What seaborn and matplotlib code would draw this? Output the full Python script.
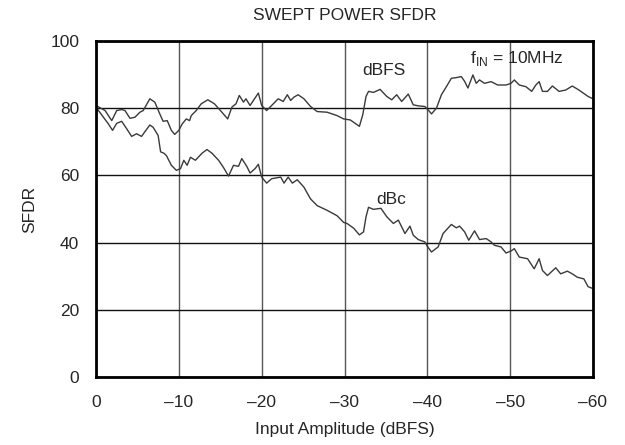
# -*- coding: utf-8 -*-

import pandas            as pd
import seaborn           as sns
import matplotlib.pyplot as plt

# swept power SFDR
dbfs_x = [0, -1.1, -1.9, -2.5, -3.1, -3.5, -4.1, -4.7, -5.3, -5.7,
          -6.5, -7.1, -7.7, -8.1, -8.6, -9.1, -9.5, -10.0, -10.4, -10.9,
          -11.3, -11.5, -12.1, -12.7, -13.5, -14.3, -15.2, -15.9, -16.4, -16.9,
          -17.3, -17.8, -18.1, -18.6, -19.0, -19.6, -20.0, -20.6, -21.2, -22.0,
          -22.6, -23.1, -23.5, -23.9, -24.4, -25.1, -25.9, -26.7, -27.9, -29.1,
          -29.9, -30.7, -31.8, -32.2, -32.6, -32.9, -33.5, -34.3, -35.1, -35.7,
          -36.3, -36.9, -37.7, -38.3, -38.9, -39.7, -40.1, -40.5, -41.1, -41.7,
          -42.3, -42.9, -43.5, -44.1, -44.5, -44.9, -45.5, -45.9, -46.3, -46.9,
          -47.7, -48.5, -49.5, -50.1, -50.5, -51.1, -51.9, -52.6, -53.1, -53.5,
          -53.9, -54.5, -55.1, -55.9, -56.7, -57.5, -58.3, -59.4, -60.0]
dbfs_y = [80.8, 79.3, 76.3, 79.3, 79.6, 79.3, 77.0, 77.3, 78.8, 79.3,
          82.8, 81.8, 78.3, 76.1, 76.3, 73.4, 72.2, 73.4, 75.3, 76.8,
          76.3, 77.8, 79.3, 81.3, 82.5, 81.3, 78.8, 76.8, 80.3, 81.3,
          83.8, 81.8, 82.8, 80.8, 82.3, 84.5, 80.8, 79.3, 80.8, 82.8,
          82.0, 84.0, 82.3, 83.3, 84.0, 82.8, 80.5, 79.0, 78.8, 77.8,
          76.8, 76.5, 74.6, 78.0, 83.5, 85.0, 84.7, 85.6, 83.5, 82.5,
          84.0, 82.0, 84.2, 81.0, 80.7, 80.5, 79.5, 78.3, 80.0, 84.0,
          86.4, 88.9, 89.1, 89.4, 88.0, 86.0, 89.9, 87.4, 88.4, 87.4,
          87.9, 86.9, 86.9, 87.4, 88.4, 86.9, 86.4, 85.0, 86.9, 87.9,
          85.0, 85.0, 86.6, 85.0, 85.4, 86.6, 85.4, 83.5, 82.8]

dbc_x = [0, -0.9, -1.5, -2.0, -2.5, -3.1, -3.7, -4.3, -4.9, -5.5,
         -5.9, -6.5, -6.9, -7.5, -7.8, -8.2, -8.5, -9.1, -9.7, -10.2,
         -10.6, -11.0, -11.4, -12.0, -12.8, -13.4, -14.0, -14.8, -15.4, -16.0,
         -16.6, -17.2, -17.6, -18.2, -18.6, -19.2, -19.6, -20.0, -20.6, -21.2,
         -22.3, -22.7, -23.2, -23.7, -24.3, -25.1, -25.9, -26.7, -27.9, -29.1,
         -29.9, -30.3, -31.1, -31.8, -32.3, -32.6, -32.9, -33.5, -34.4, -35.1,
         -35.9, -36.5, -37.3, -37.9, -38.3, -38.9, -39.7, -40.0, -40.5, -41.3,
         -41.9, -42.9, -43.5, -43.9, -44.5, -45.0, -45.7, -46.3, -47.1, -47.7,
         -48.1, -48.9, -49.5, -50.1, -50.5, -51.1, -52.1, -52.9, -53.5, -53.9,
         -54.5, -55.5, -56.1, -56.9, -57.5, -58.1, -58.9, -59.4, -60.0]
dbc_y = [80.3, 77.3, 75.3, 73.4, 75.5, 76.1, 73.9, 71.6, 72.4, 71.6,
         73.0, 75.0, 74.3, 71.9, 67.0, 66.6, 65.9, 63.0, 61.5, 62.0,
         64.5, 63.0, 65.4, 64.5, 66.6, 67.7, 66.6, 64.5, 62.3, 59.8,
         63.0, 62.7, 65.0, 62.7, 60.7, 62.0, 63.3, 59.5, 57.7, 59.0,
         59.5, 57.7, 59.5, 57.7, 58.7, 56.5, 53.0, 51.0, 49.6, 48.0,
         46.0, 45.7, 44.3, 42.3, 43.2, 47.7, 50.5, 49.9, 50.2, 47.7,
         45.7, 46.7, 42.7, 44.9, 42.2, 40.9, 40.2, 38.9, 37.2, 38.7,
         42.7, 45.4, 44.4, 44.9, 43.2, 40.7, 43.5, 40.9, 41.2, 40.2,
         39.2, 38.7, 36.9, 37.5, 38.2, 35.7, 35.2, 32.2, 35.2, 31.7,
         30.2, 32.5, 30.7, 31.5, 30.7, 29.7, 29.2, 26.9, 26.3]

x_ticks = [0, -10, -20, -30, -40, -50, -60]
x_tick_labels = ['0', '\u201310', '\u201320', '\u201330', '\u201340', '\u201350', '\u201360']
y_ticks = [0, 20, 40, 60, 80, 100]

df = pd.concat([
    pd.DataFrame({'amp': dbfs_x, 'sfdr': dbfs_y, 'unit': 'dBFS'}),
    pd.DataFrame({'amp': dbc_x, 'sfdr': dbc_y, 'unit': 'dBc'}),
])

sns.set_style('white')
plt.rcParams['font.family'] = ['Liberation Sans', 'DejaVu Sans']
plt.rcParams['mathtext.fontset'] = 'custom'
plt.rcParams['mathtext.rm'] = 'Liberation Sans'
fs = 12.5

fig = plt.figure(figsize=(6.25, 4.45), dpi=100)
ax = fig.add_axes([0.1536, 0.1528, 0.7952, 0.7551])

sns.lineplot(data=df, x='amp', y='sfdr', hue='unit', units='unit', estimator=None,
             sort=False, palette={'dBFS': '#3a3a3a', 'dBc': '#3a3a3a'},
             linewidth=1.0, legend=False, ax=ax)

ax.set_xlim(0, -60)
ax.set_ylim(0, 100)
ax.set_xticks(x_ticks)
ax.set_xticklabels(x_tick_labels)
ax.set_yticks(y_ticks)
ax.xaxis.grid(True, color='#555555', linewidth=1.0)
ax.yaxis.grid(True, color='#111111', linewidth=1.0)
ax.set_axisbelow(True)
ax.tick_params(axis='x', length=0, pad=13, labelsize=fs)
ax.tick_params(axis='y', length=0, pad=12, labelsize=fs)
for s in ax.spines.values():
    s.set_linewidth(2.0)
    s.set_color('black')
ax.set_xlabel('')
ax.set_ylabel('')

ax.text(-34.7, 89.9, 'dBFS', ha='center', va='baseline', fontsize=fs)
ax.text(-50.8, 93.4, r'f$_{\mathregular{IN}}$ = 10MHz', ha='center', va='baseline', fontsize=fs)
ax.text(-35.6, 51.5, 'dBc', ha='center', va='baseline', fontsize=fs)

cx = 0.1536 + 0.7952 / 2
fig.text(cx, 0.966, 'SWEPT POWER SFDR', ha='center', va='center', fontsize=fs)
fig.text(cx, 0.034, 'Input Amplitude (dBFS)', ha='center', va='center', fontsize=fs)
fig.text(0.048, 0.53, 'SFDR', ha='center', va='center', rotation=90, fontsize=fs)

fig.savefig('out.png', dpi=100)
